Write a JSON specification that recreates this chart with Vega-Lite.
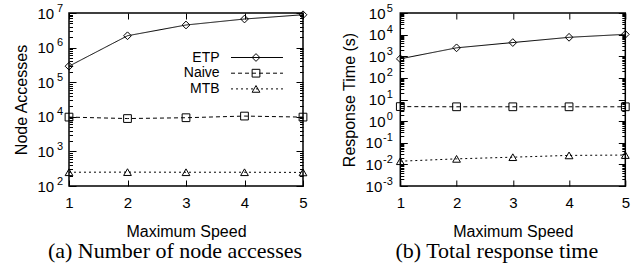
{
  "$schema": "https://vega.github.io/schema/vega-lite/v6.json",
  "padding": {"left": 12, "top": 1, "right": 0, "bottom": 0},
  "config": {
    "font": "Liberation Sans",
    "view": {"stroke": "black", "strokeWidth": 1.5},
    "axis": {"domain": false, "grid": false, "tickColor": "black", "tickWidth": 1, "labelColor": "black", "titleColor": "black", "titleFontWeight": "normal", "labelFontSize": 15, "titleFontSize": 16, "labelOverlap": false, "labelFlush": false},
    "legend": {"labelFontSize": 14, "labelColor": "black", "rowPadding": 1.7, "title": null},
    "title": {"font": "Liberation Serif", "fontSize": 22, "fontWeight": "normal", "color": "black", "orient": "bottom", "anchor": "middle", "frame": "group", "offset": 2}
  },
  "datasets": {
    "access": [
      {"speed": 1, "method": "ETP", "value": 290000},
      {"speed": 2, "method": "ETP", "value": 2200000},
      {"speed": 3, "method": "ETP", "value": 4500000},
      {"speed": 4, "method": "ETP", "value": 6700000},
      {"speed": 5, "method": "ETP", "value": 8900000},
      {"speed": 1, "method": "Naive", "value": 9800},
      {"speed": 2, "method": "Naive", "value": 8900},
      {"speed": 3, "method": "Naive", "value": 9400},
      {"speed": 4, "method": "Naive", "value": 10500},
      {"speed": 5, "method": "Naive", "value": 9800},
      {"speed": 1, "method": "MTB", "value": 250},
      {"speed": 2, "method": "MTB", "value": 252},
      {"speed": 3, "method": "MTB", "value": 250},
      {"speed": 4, "method": "MTB", "value": 250},
      {"speed": 5, "method": "MTB", "value": 247}
    ],
    "time": [
      {"speed": 1, "method": "ETP", "value": 760},
      {"speed": 2, "method": "ETP", "value": 2450},
      {"speed": 3, "method": "ETP", "value": 4300},
      {"speed": 4, "method": "ETP", "value": 7500},
      {"speed": 5, "method": "ETP", "value": 10300},
      {"speed": 1, "method": "Naive", "value": 4.7},
      {"speed": 2, "method": "Naive", "value": 4.6},
      {"speed": 3, "method": "Naive", "value": 4.6},
      {"speed": 4, "method": "Naive", "value": 4.6},
      {"speed": 5, "method": "Naive", "value": 4.6},
      {"speed": 1, "method": "MTB", "value": 0.014},
      {"speed": 2, "method": "MTB", "value": 0.018},
      {"speed": 3, "method": "MTB", "value": 0.0215},
      {"speed": 4, "method": "MTB", "value": 0.026},
      {"speed": 5, "method": "MTB", "value": 0.027}
    ]
  },
  "spacing": 30.3,
  "hconcat": [
    {
      "title": {"text": "(a)  Number of node accesses", "dx": -11},
      "width": 234,
      "height": 173,
      "data": {"name": "access"},
      "layer": [
        {
          "mark": {"type": "line", "color": "black", "strokeWidth": 1},
          "encoding": {
            "x": {"field": "speed", "type": "quantitative", "scale": {"domain": [1, 5], "nice": false, "zero": false},
              "axis": {"orient": "bottom", "values": [1, 2, 3, 4, 5], "format": "d", "tickSize": -6, "labelPadding": 15, "title": "Maximum Speed", "titlePadding": 13}},
            "y": {"field": "value", "type": "quantitative", "scale": {"type": "log", "domain": [100, 10000000], "nice": false},
              "axis": {"orient": "left", "title": "Node Accesses", "titlePadding": 8, "labelPadding": 22.3,
                "values": [100,200,300,400,500,600,700,800,900,1000,2000,3000,4000,5000,6000,7000,8000,9000,10000,20000,30000,40000,50000,60000,70000,80000,90000,100000,200000,300000,400000,500000,600000,700000,800000,900000,1000000,2000000,3000000,4000000,5000000,6000000,7000000,8000000,9000000,10000000],
                "labelExpr": "indexof([100,1000,10000,100000,1000000,10000000], datum.value) >= 0 ? '10' : ''",
                "tickSize": {"condition": {"test": "indexof([100,1000,10000,100000,1000000,10000000], datum.value) >= 0", "value": -7}, "value": -3.5}}},
            "strokeDash": {"field": "method", "type": "nominal", "sort": ["ETP", "Naive", "MTB"], "scale": {"range": [[1, 0], [4, 3], [2, 3]]},
              "legend": {"orient": "none", "legendX": 181, "legendY": 37.5, "symbolType": "M-5,0H5", "symbolSize": 108, "symbolStrokeWidth": 1, "symbolStrokeColor": "black", "labelAlign": "right", "labelOffset": -44.4}}
          }
        },
        {
          "mark": {"type": "line", "strokeOpacity": 0},
          "encoding": {
            "x": {"field": "speed", "type": "quantitative", "scale": {"domain": [1, 5], "nice": false, "zero": false}, "axis": null},
            "y": {"field": "value", "type": "quantitative", "scale": {"type": "log", "domain": [100, 10000000], "nice": false},
              "axis": {"orient": "left", "title": null, "ticks": false, "labelPadding": 6.3, "labelAlign": "right", "labelFontSize": 11, "labelOffset": -5,
                "values": [100, 1000, 10000, 100000, 1000000, 10000000],
                "labelExpr": "datum.value == 100 ? '2' : datum.value == 1000 ? '3' : datum.value == 10000 ? '4' : datum.value == 100000 ? '5' : datum.value == 1000000 ? '6' : '7'"}},
            "detail": {"field": "method", "type": "nominal"}
          }
        },
        {
          "mark": {"type": "point", "filled": false, "color": "black", "strokeWidth": 1, "size": 60, "opacity": 1},
          "encoding": {
            "x": {"field": "speed", "type": "quantitative", "scale": {"domain": [1, 5], "nice": false, "zero": false},
              "axis": {"orient": "top", "values": [1, 2, 3, 4, 5], "tickSize": -6, "labels": false, "title": null}},
            "y": {"field": "value", "type": "quantitative", "scale": {"type": "log", "domain": [100, 10000000], "nice": false},
              "axis": {"orient": "right", "labels": false, "title": null,
                "values": [100,200,300,400,500,600,700,800,900,1000,2000,3000,4000,5000,6000,7000,8000,9000,10000,20000,30000,40000,50000,60000,70000,80000,90000,100000,200000,300000,400000,500000,600000,700000,800000,900000,1000000,2000000,3000000,4000000,5000000,6000000,7000000,8000000,9000000,10000000],
                "tickSize": {"condition": {"test": "indexof([100,1000,10000,100000,1000000,10000000], datum.value) >= 0", "value": -7}, "value": -3.5}}},
            "shape": {"field": "method", "type": "nominal", "scale": {"domain": ["ETP", "Naive", "MTB"], "range": ["diamond", "square", "triangle-up"]},
              "legend": {"orient": "none", "legendX": 180, "legendY": 37.5, "symbolSize": 60, "symbolStrokeWidth": 1, "symbolStrokeColor": "black", "labelOpacity": 0}}
          }
        }
      ],
      "resolve": {"axis": {"x": "independent", "y": "independent"}}
    },
    {
      "title": {"text": "(b)  Total response time", "dx": -16},
      "width": 225,
      "height": 173,
      "data": {"name": "time"},
      "layer": [
        {
          "mark": {"type": "line", "color": "black", "strokeWidth": 1},
          "encoding": {
            "x": {"field": "speed", "type": "quantitative", "scale": {"domain": [1, 5], "nice": false, "zero": false},
              "axis": {"orient": "bottom", "values": [1, 2, 3, 4, 5], "format": "d", "tickSize": -6, "labelPadding": 15, "title": "Maximum Speed", "titlePadding": 13}},
            "y": {"field": "value", "type": "quantitative", "scale": {"type": "log", "domain": [0.001, 100000], "nice": false},
              "axis": {"orient": "left", "title": "Response Time (s)", "titlePadding": 8,
                "labelPadding": {"condition": {"test": "datum.value < 1", "value": 25.5}, "value": 22.3},
                "values": [0.001,0.002,0.003,0.004,0.005,0.006,0.007,0.008,0.009,0.01,0.02,0.03,0.04,0.05,0.06,0.07,0.08,0.09,0.1,0.2,0.3,0.4,0.5,0.6,0.7,0.8,0.9,1,2,3,4,5,6,7,8,9,10,20,30,40,50,60,70,80,90,100,200,300,400,500,600,700,800,900,1000,2000,3000,4000,5000,6000,7000,8000,9000,10000,20000,30000,40000,50000,60000,70000,80000,90000,100000],
                "labelExpr": "indexof([0.001,0.01,0.1,1,10,100,1000,10000,100000], datum.value) >= 0 ? '10' : ''",
                "tickSize": {"condition": {"test": "indexof([0.001,0.01,0.1,1,10,100,1000,10000,100000], datum.value) >= 0", "value": -7}, "value": -3.5}}},
            "strokeDash": {"field": "method", "type": "nominal", "sort": ["ETP", "Naive", "MTB"], "scale": {"range": [[1, 0], [4, 3], [2, 3]]},
              "legend": {"orient": "none", "legendX": 176, "legendY": 37.5, "symbolType": "M-5,0H5", "symbolSize": 85, "symbolStrokeWidth": 1, "symbolStrokeColor": "black", "labelAlign": "right", "labelOffset": -42.5}}
          }
        },
        {
          "mark": {"type": "line", "strokeOpacity": 0},
          "encoding": {
            "x": {"field": "speed", "type": "quantitative", "scale": {"domain": [1, 5], "nice": false, "zero": false}, "axis": null},
            "y": {"field": "value", "type": "quantitative", "scale": {"type": "log", "domain": [0.001, 100000], "nice": false},
              "axis": {"orient": "left", "title": null, "ticks": false, "labelPadding": 8, "labelAlign": "right", "labelFontSize": 11, "labelOffset": -5,
                "values": [0.001, 0.01, 0.1, 1, 10, 100, 1000, 10000, 100000],
                "labelExpr": "datum.value == 0.001 ? '-3' : datum.value == 0.01 ? '-2' : datum.value == 0.1 ? '-1' : datum.value == 1 ? '0' : datum.value == 10 ? '1' : datum.value == 100 ? '2' : datum.value == 1000 ? '3' : datum.value == 10000 ? '4' : '5'"}},
            "detail": {"field": "method", "type": "nominal"}
          }
        },
        {
          "mark": {"type": "point", "filled": false, "color": "black", "strokeWidth": 1, "size": 60, "opacity": 1},
          "encoding": {
            "x": {"field": "speed", "type": "quantitative", "scale": {"domain": [1, 5], "nice": false, "zero": false},
              "axis": {"orient": "top", "values": [1, 2, 3, 4, 5], "tickSize": -6, "labels": false, "title": null}},
            "y": {"field": "value", "type": "quantitative", "scale": {"type": "log", "domain": [0.001, 100000], "nice": false},
              "axis": {"orient": "right", "labels": false, "title": null,
                "values": [0.001,0.002,0.003,0.004,0.005,0.006,0.007,0.008,0.009,0.01,0.02,0.03,0.04,0.05,0.06,0.07,0.08,0.09,0.1,0.2,0.3,0.4,0.5,0.6,0.7,0.8,0.9,1,2,3,4,5,6,7,8,9,10,20,30,40,50,60,70,80,90,100,200,300,400,500,600,700,800,900,1000,2000,3000,4000,5000,6000,7000,8000,9000,10000,20000,30000,40000,50000,60000,70000,80000,90000,100000],
                "tickSize": {"condition": {"test": "indexof([0.001,0.01,0.1,1,10,100,1000,10000,100000], datum.value) >= 0", "value": -7}, "value": -3.5}}},
            "shape": {"field": "method", "type": "nominal", "scale": {"domain": ["ETP", "Naive", "MTB"], "range": ["diamond", "square", "triangle-up"]},
              "legend": {"orient": "none", "legendX": 174, "legendY": 37.5, "symbolSize": 60, "symbolStrokeWidth": 1, "symbolStrokeColor": "black", "labelOpacity": 0}}
          }
        }
      ],
      "resolve": {"axis": {"x": "independent", "y": "independent"}}
    }
  ]
}
